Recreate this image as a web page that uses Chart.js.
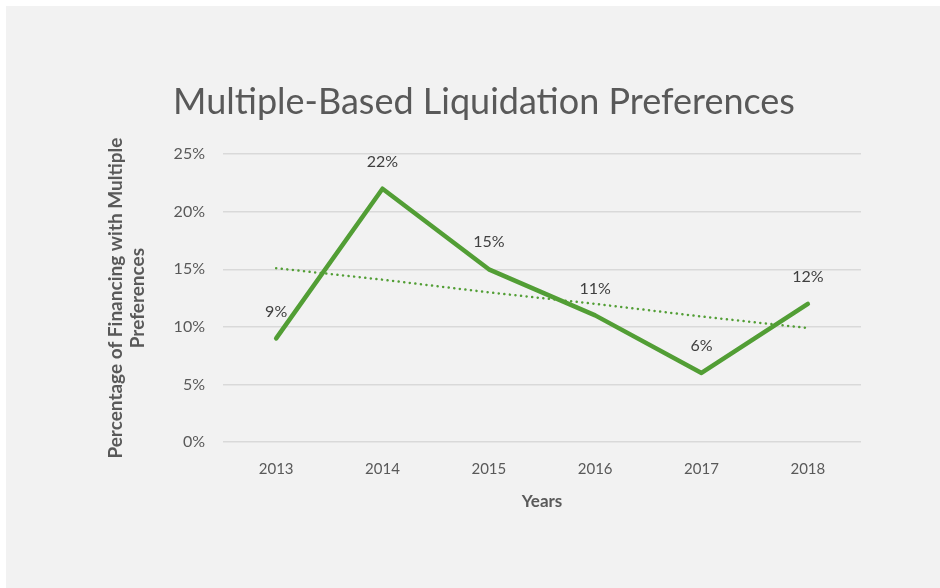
<!DOCTYPE html>
<html>
<head>
<meta charset="utf-8">
<script src="https://cdn.jsdelivr.net/npm/chart.js@4/dist/chart.umd.min.js"></script>
<style>
  html, body { margin: 0; padding: 0; background: #ffffff; }
  #wrap { width: 940px; height: 588px; position: relative; }
</style>
</head>
<body>
<div id="wrap"><canvas id="chart" width="940" height="588"></canvas></div>
<script>
// データ
const years = ['2013', '2014', '2015', '2016', '2017', '2018'];
const shares = [9, 22, 15, 11, 6, 12];
// 線形トレンドライン
const trendValues = [15.1, 14.1, 13.0, 12.0, 10.9, 9.9];
const yTicks = [0, 5, 10, 15, 20, 25];

const GREEN = '#529e35';
const TEXT = '#595959';
const FONT = 'Lato, "Open Sans", sans-serif';

// 背景パネル
const panelBg = {
  id: 'panelBg',
  beforeDraw(chart) {
    const ctx = chart.ctx;
    ctx.save();
    ctx.fillStyle = '#f2f2f2';
    ctx.fillRect(6, 6, chart.width - 6, chart.height - 6);
    ctx.restore();
  }
};

// データラベル
const pointLabels = {
  id: 'pointLabels',
  afterDatasetsDraw(chart) {
    const ctx = chart.ctx;
    const meta = chart.getDatasetMeta(0);
    ctx.save();
    ctx.font = '16px ' + FONT;
    ctx.fillStyle = '#404040';
    ctx.textAlign = 'center';
    ctx.textBaseline = 'middle';
    meta.data.forEach((pt, i) => {
      ctx.fillText(shares[i] + '%', pt.x, pt.y - 27);
    });
    ctx.restore();
  }
};

new Chart(document.getElementById('chart'), {
  type: 'line',
  data: {
    labels: years,
    datasets: [
      {
        label: 'Share',
        data: shares,
        borderColor: GREEN,
        borderWidth: 4.5,
        pointRadius: 0,
        tension: 0,
        borderCapStyle: 'round',
        borderJoinStyle: 'round'
      },
      {
        label: 'Trend',
        data: trendValues,
        borderColor: GREEN,
        borderWidth: 2.5,
        borderDash: [0.1, 5.5],
        borderCapStyle: 'round',
        pointRadius: 0,
        tension: 0
      }
    ]
  },
  options: {
    responsive: false,
    animation: false,
    layout: { padding: { left: 107, right: 79, top: 20, bottom: 78 } },
    plugins: {
      legend: { display: false },
      tooltip: { enabled: false },
      title: {
        display: true,
        text: 'Multiple-Based Liquidation Preferences',
        color: TEXT,
        font: { family: FONT, size: 36, weight: 'normal' },
        padding: { top: 61, bottom: 30 }
      }
    },
    scales: {
      x: {
        offset: true,
        grid: { display: false },
        border: { display: false },
        ticks: { color: TEXT, font: { family: FONT, size: 15 }, padding: 10 },
        title: {
          display: true,
          text: 'Years',
          color: TEXT,
          font: { family: FONT, size: 17, weight: 'bold', lineHeight: 1 },
          padding: { top: 5, bottom: 0 }
        }
      },
      y: {
        min: 0,
        max: 25,
        afterBuildTicks: (scale) => { scale.ticks = yTicks.map(v => ({ value: v })); },
        afterFit: (scale) => { scale.width = 116; },
        grid: { color: '#d9d9d9', lineWidth: 1.5, drawTicks: false },
        border: { display: false },
        ticks: {
          color: TEXT,
          font: { family: FONT, size: 16 },
          padding: 18,
          callback: (v) => v + '%'
        },
        title: {
          display: true,
          text: ['Percentage of Financing with Multiple', 'Preferences'],
          color: TEXT,
          font: { family: FONT, size: 19, weight: 'bold', lineHeight: 1.2 },
          padding: { top: -3 }
        }
      }
    }
  },
  plugins: [panelBg, pointLabels]
});
</script>
</body>
</html>
